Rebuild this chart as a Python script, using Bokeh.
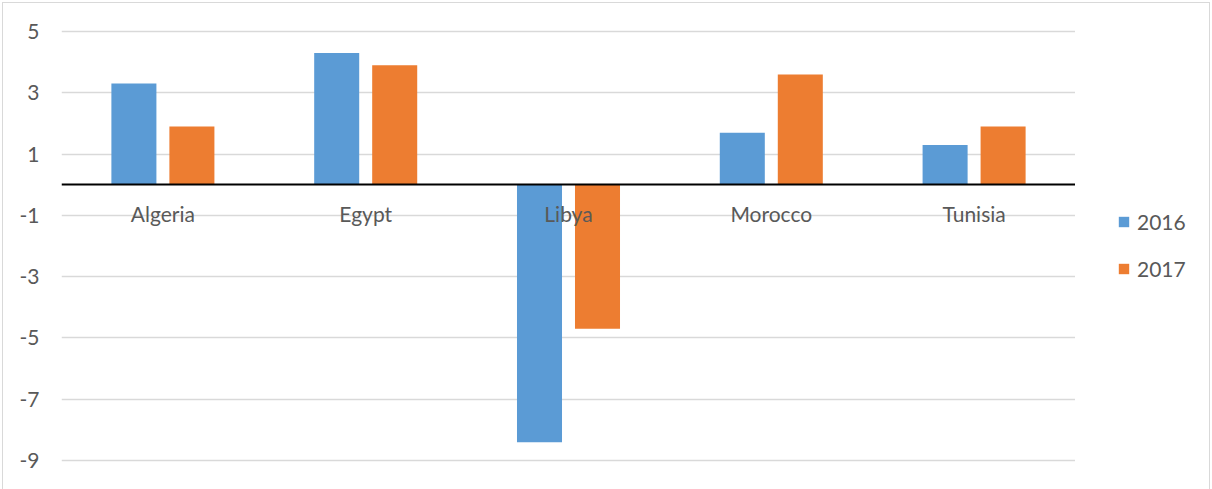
from bokeh.plotting import figure
from bokeh.layouts import row
from bokeh.models import (CategoricalAxis, FixedTicker, Legend, LegendItem,
                          Range1d, FactorRange, ColumnDataSource)
from bokeh.transform import dodge
from bokeh.embed import file_html
from bokeh.resources import INLINE

categories = ["Algeria", "Egypt", "Libya", "Morocco", "Tunisia"]
v2016 = [3.3, 4.3, -8.4, 1.7, 1.3]
v2017 = [1.9, 3.9, -4.7, 3.6, 1.9]
series_names = ["2016", "2017"]
series_colors = ["#5b9bd5", "#ed7d31"]
y_ticks = [-9, -7, -5, -3, -1, 1, 3, 5]

FONT = "Lato"
TXT = "#595959"

src = ColumnDataSource(dict(cat=categories, v2016=v2016, v2017=v2017))

p = figure(x_range=FactorRange(*categories), y_range=Range1d(-9.946, 5.914),
           width=1072, height=486, output_backend="svg", toolbar_location=None,
           x_axis_location=None, min_border_left=58, min_border_right=0,
           min_border_top=0, min_border_bottom=0)
p.outline_line_color = None
p.background_fill_color = "white"
p.border_fill_color = "white"

r1 = p.vbar(x=dodge("cat", -0.143, range=p.x_range), top="v2016", bottom=0,
            width=0.222, source=src, fill_color=series_colors[0], line_color=None)
r2 = p.vbar(x=dodge("cat", 0.143, range=p.x_range), top="v2017", bottom=0,
            width=0.222, source=src, fill_color=series_colors[1], line_color=None)

# y axis
yax = p.yaxis[0]
yax.ticker = FixedTicker(ticks=y_ticks)
yax.major_label_overrides = {t: str(t) for t in y_ticks}
yax.axis_line_color = None
yax.major_tick_line_color = None
yax.minor_tick_line_color = None
yax.major_tick_out = 0
yax.major_tick_in = 0
yax.major_label_standoff = 22
yax.major_label_text_font = FONT
yax.major_label_text_font_size = "21px"
yax.major_label_text_color = TXT

p.ygrid.grid_line_color = "#d9d9d9"
p.ygrid.grid_line_width = 1.5
p.xgrid.visible = False

# category axis at zero
xax = CategoricalAxis(fixed_location=0)
xax.axis_line_color = "black"
xax.axis_line_width = 2
xax.major_tick_line_color = None
xax.minor_tick_line_color = None
xax.major_tick_out = 0
xax.major_tick_in = 0
xax.major_label_standoff = 16
xax.major_label_text_font = FONT
xax.major_label_text_font_size = "21px"
xax.major_label_text_color = TXT
p.add_layout(xax, "below")

# legend panel (proxy glyphs lie outside the visible range)
q = figure(x_range=Range1d(0, 1), y_range=Range1d(0, 1), width=134, height=486,
           output_backend="svg", toolbar_location=None,
           x_axis_location=None, y_axis_location=None,
           min_border_left=0, min_border_right=0, min_border_top=0, min_border_bottom=0)
q.outline_line_color = None
q.xgrid.visible = False
q.ygrid.visible = False
q.border_fill_color = "white"
l1 = q.vbar(x=[5], top=[6], bottom=[5], width=0.1, fill_color=series_colors[0], line_color=None)
l2 = q.vbar(x=[5], top=[6], bottom=[5], width=0.1, fill_color=series_colors[1], line_color=None)

legend = Legend(items=[LegendItem(label=series_names[0], renderers=[l1]),
                       LegendItem(label=series_names[1], renderers=[l2])],
                location=(42, 208), orientation="vertical")
legend.glyph_width = 13
legend.glyph_height = 13
legend.label_height = 13
legend.spacing = 22
legend.padding = 0
legend.margin = 0
legend.label_standoff = 7
legend.border_line_color = None
legend.background_fill_alpha = 0
legend.label_text_font = FONT
legend.label_text_font_size = "21px"
legend.label_text_color = TXT
q.add_layout(legend, "center")

lay = row(p, q, spacing=0)
lay.styles = {"border-left": "1px solid #d9d9d9", "border-top": "1px solid #d9d9d9",
              "border-right": "1px solid #d9d9d9", "margin-left": "2px", "margin-top": "2px"}

open("out.html", "w").write(file_html(lay, INLINE))
